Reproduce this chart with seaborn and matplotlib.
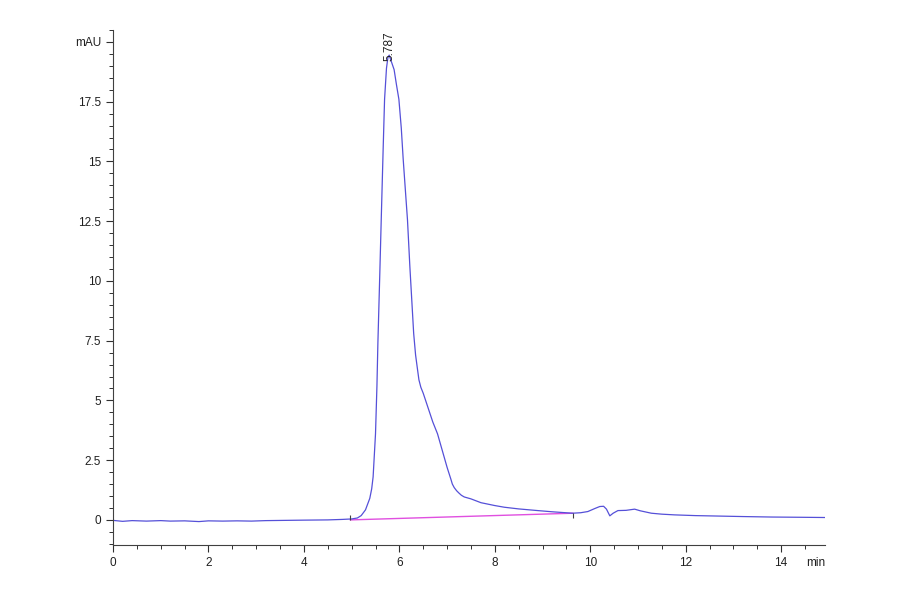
import matplotlib
matplotlib.use("Agg")
import matplotlib.pyplot as plt
import seaborn as sns
import pandas as pd
from matplotlib.ticker import MultipleLocator

sns.set_style("ticks")
plt.rcParams['font.family'] = ['Liberation Sans', 'DejaVu Sans']

# Chromatogram (time in min, signal in mAU)
time_min = [0.0, 0.2, 0.4, 0.7, 1.0, 1.2, 1.5, 1.8, 2.0, 2.3, 2.6, 2.9, 3.2, 3.6,
            4.0, 4.5, 4.8, 5.0, 5.12, 5.2, 5.29, 5.38, 5.42, 5.45, 5.50, 5.53,
            5.55, 5.59, 5.62, 5.66, 5.69, 5.73, 5.76, 5.787, 5.82, 5.89, 5.94,
            5.99, 6.04, 6.08, 6.14, 6.17, 6.22, 6.26, 6.30, 6.34, 6.38, 6.41,
            6.45, 6.50, 6.60, 6.70, 6.80, 6.90, 7.00, 7.04, 7.08, 7.11, 7.15,
            7.20, 7.25, 7.30, 7.36, 7.50, 7.71, 8.0, 8.2, 8.5, 8.9, 9.2, 9.63,
            9.8, 9.95, 10.1, 10.2, 10.28, 10.34, 10.41, 10.48, 10.58, 10.75,
            10.93, 11.05, 11.28, 11.5, 11.77, 12.2, 12.7, 13.2, 13.8, 14.4, 14.92]
signal_mau = [-0.02, -0.06, -0.03, -0.05, -0.03, -0.05, -0.04, -0.07, -0.04,
              -0.05, -0.04, -0.05, -0.03, -0.02, -0.01, 0.0, 0.02, 0.04, 0.08,
              0.18, 0.42, 0.9, 1.3, 1.8, 3.6, 5.6, 7.4, 10.3, 12.56, 15.5,
              17.6, 18.9, 19.35, 19.45, 19.25, 18.84, 18.2, 17.6, 16.4, 15.1,
              13.4, 12.56, 10.6, 9.2, 7.8, 6.9, 6.3, 5.86, 5.55, 5.3, 4.7, 4.1,
              3.6, 2.9, 2.2, 1.95, 1.7, 1.5, 1.35, 1.22, 1.12, 1.03, 0.96, 0.88,
              0.72, 0.6, 0.53, 0.46, 0.39, 0.34, 0.28, 0.30, 0.35, 0.48, 0.56,
              0.57, 0.45, 0.17, 0.28, 0.39, 0.40, 0.45, 0.38, 0.28, 0.24, 0.21,
              0.18, 0.16, 0.14, 0.12, 0.11, 0.10]

# Integration baseline
baseline_time = [4.97, 9.64]
baseline_mau = [0.0, 0.28]

peak_time = 5.787
peak_height = 19.45
peak_label = "5.787"

y_ticks = [0, 2.5, 5, 7.5, 10, 12.5, 15, 17.5, 20]
y_tick_labels = ["0", "2.5", "5", "7.5", "10", "12.5", "15", "17.5", "mAU"]
x_ticks = [0, 2, 4, 6, 8, 10, 12, 14]
x_tick_labels = ["0", "2", "4", "6", "8", "10", "12", "14"]

df = pd.DataFrame({"time": time_min, "signal": signal_mau})
bl = pd.DataFrame({"time": baseline_time, "signal": baseline_mau})

fig = plt.figure(figsize=(9, 5.94), dpi=100)
ax = fig.add_axes([0.1256, 0.0825, 0.7911, 0.867])

sns.lineplot(data=bl, x="time", y="signal", ax=ax, color="#e050e0", lw=1.0)
sns.lineplot(data=df, x="time", y="signal", ax=ax, color="#5550d8", lw=0.9)

# small integration marks at baseline ends
ax.vlines(baseline_time[0], baseline_mau[0], baseline_mau[0] + 0.2, color="#404040", lw=0.8)
ax.vlines(baseline_time[1], baseline_mau[1] - 0.2, baseline_mau[1], color="#404040", lw=0.8)

ax.text(peak_time, peak_height - 0.25, peak_label, rotation=90, ha="center", va="bottom",
        fontsize=8.5, color="#202020")

ax.set_xlim(0, 14.92)
ax.set_ylim(-1.05, 20.5)
ax.set_xticks(x_ticks)
ax.set_xticklabels(x_tick_labels)
ax.set_yticks(y_ticks)
ax.set_yticklabels(y_tick_labels)
ax.xaxis.set_minor_locator(MultipleLocator(0.5))
ax.yaxis.set_minor_locator(MultipleLocator(0.5))
ax.tick_params(axis="both", which="major", length=5, width=0.8, color="#303030",
               labelsize=8.5, labelcolor="#202020")
ax.tick_params(axis="both", which="minor", length=3, width=0.7, color="#303030")
ax.set_xlabel("")
ax.set_ylabel("")
ax.text(1.0, -0.034, "min", transform=ax.transAxes, ha="right", va="center",
        fontsize=8.5, color="#202020")

for s in ["top", "right"]:
    ax.spines[s].set_visible(False)
for s in ["left", "bottom"]:
    ax.spines[s].set_color("#404040")
    ax.spines[s].set_linewidth(0.8)

fig.savefig("out.png", dpi=100, facecolor="white")
